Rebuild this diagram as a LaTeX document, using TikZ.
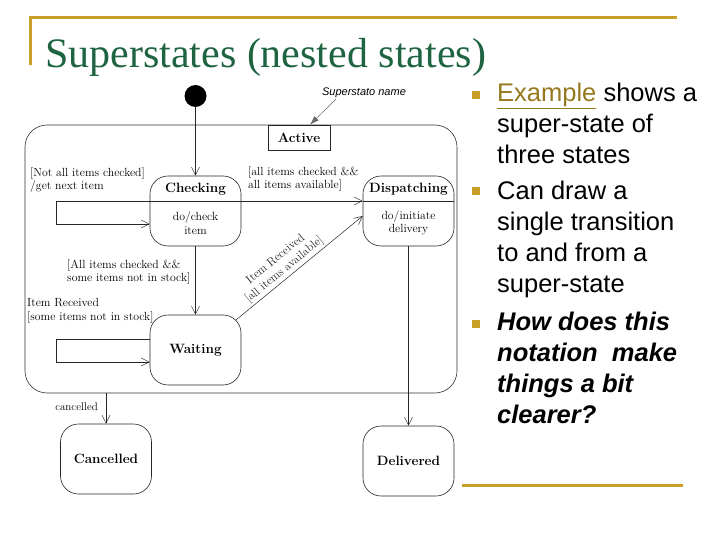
\documentclass[tikz,border=0pt]{standalone}
\usepackage{fontspec}
\newfontfamily\titlefont{Liberation Serif}
\newfontfamily\slidefont{Liberation Sans}
\usetikzlibrary{arrows.meta,positioning,calc}
\definecolor{slidegold}{RGB}{200,160,40}
\definecolor{titlegreen}{RGB}{30,100,65}
\definecolor{linkgold}{RGB}{150,120,30}

\begin{document}
\begin{tikzpicture}[x=1pt, y=-1pt,
    state/.style={draw=black!85, rounded corners=18pt, minimum width=91pt, minimum height=70pt, line width=0.6pt},
    superbox/.style={draw=black!80, rounded corners=22pt, minimum width=432pt, minimum height=268pt, line width=0.6pt},
    lbl/.style={font=\fontsize{11.8}{13.5}\selectfont, align=left, anchor=west, inner sep=0pt},
    sname/.style={font=\fontsize{13.5}{15}\selectfont\bfseries, inner sep=0pt},
    arr/.style={-{Straight Barb[length=8pt, width=8pt]}, line width=0.5pt, black!85},
    goldline/.style={slidegold, line width=3pt},
    bullet/.style={fill=slidegold, minimum size=8pt, inner sep=0pt},
    bullettext/.style={font=\slidefont\fontsize{25.5}{31}\selectfont, align=left, anchor=north west, inner sep=0pt},
]
\useasboundingbox (0,0) rectangle (720,540);

% Slide frame and title
\draw[goldline] (30,65) -- (30,18) -- (677,18);
\draw[goldline] (462,485) -- (683,485);
\node[font=\titlefont\fontsize{42}{42}\selectfont, text=titlegreen, anchor=base west, inner sep=0pt]
    (title) at (45,68) {Superstates (nested states)};

% Superstate
\node[superbox] (active) at (241,259) {};
\node[draw=black!85, line width=0.6pt, minimum width=62pt, minimum height=25pt,
      font=\fontsize{13.5}{15}\selectfont\bfseries] (activelabel) at (299,137.5) {Active};
\node[font=\slidefont\itshape\fontsize{11}{12}\selectfont, inner sep=1pt] (supername) at (364,93) {Superstato name};
\draw[-{Latex[length=9pt, width=6pt]}, black!60, line width=0.5pt]
    ($(supername.south west)+(15,0)$) -- ($(activelabel.north)+(11,0)$);

% Initial state
\node[circle, fill=black, minimum size=22pt, inner sep=0pt] (init) at (195.5,96) {};

% Checking state
\node[state] (checking) at (195.5,211) {};
\node[sname] (checkingname) at (195.5,189) {Checking};
\node[lbl, anchor=center, align=center] (checkingdo) at (195.5,223) {do/check\\item};

% Dispatching state
\node[state] (dispatching) at (408.5,211) {};
\node[sname] (dispatchingname) at (408.5,189) {Dispatching};
\node[lbl, anchor=center, align=center] (dispatchingdo) at (408.5,223) {do/initiate\\delivery};
\draw[line width=0.6pt, black!85] ($(dispatching.west)+(0,-10)$) -- ($(dispatching.east)+(0,-10)$);

% Waiting state
\node[state] (waiting) at (195.5,350) {};
\node[sname] (waitingname) at (195.5,350) {Waiting};

% Final states
\node[state] (cancelled) at (106,459) {};
\node[sname] (cancelledname) at (106,459) {Cancelled};
\node[state] (delivered) at (408.5,461) {};
\node[sname] (deliveredname) at (408.5,461) {Delivered};

% Transitions
\draw[arr] (init) -- (checking);
\coordinate (chkdivW) at ($(checking.west)+(0,-10)$);
\coordinate (chkdivE) at ($(checking.east)+(0,-10)$);
\draw[line width=0.6pt, black!85] (chkdivW) -- (chkdivE);
\draw[arr] (chkdivE) -- (chkdivE -| dispatching.west);
\draw[arr] (chkdivW) -- ++(-93,0) -- ++(0,23) -- ($(checking.west)+(0,13)$);
\draw[arr] (checking) -- (waiting);
\draw[arr] ($(waiting.west)+(0,-11)$) -- ++(-93,0) -- ++(0,23) -- ($(waiting.west)+(0,12)$);
\draw[arr] ($(waiting.north east)+(-5,5)$) --
    node[pos=0.42, sloped, above, font=\fontsize{11.8}{13.5}\selectfont, align=center, inner sep=2pt] (rcvlbl)
    {Item Received\\{[}all items available{]}} ($(dispatching.west)+(0,5)$);
\draw[arr] (dispatching) -- (delivered);
\draw[arr] (active.south -| cancelled) -- (cancelled);

% Transition labels
\node[lbl] (notall) at (30,180) {[Not all items checked]\\/get next item};
\node[lbl] (allavail) at (248,179) {[all items checked \&\&\\all items available]};
\node[lbl] (somenot) at (67,272) {[All items checked \&\&\\some items not in stock]};
\node[lbl] (itemrec) at (27,311) {Item Received\\{[}some items not in stock{]}};
\node[lbl, font=\fontsize{11}{12}\selectfont, anchor=east] (cancellbl) at (98,407) {cancelled};

% Bullet points
\node[bullet] (b1) at (476,95) {};
\node[bullettext] (t1) at (497,83) {\textcolor{linkgold}{\underline{Example}} shows a\\super-state of\\three states};
\node[bullet] (b2) at (476,191) {};
\node[bullettext] (t2) at (497,181) {Can draw a\\single transition\\to and from a\\super-state};
\node[bullet] (b3) at (476,324) {};
\node[bullettext, font=\slidefont\fontsize{25.5}{31}\selectfont\bfseries\itshape] (t3) at (497,312)
    {How does this\\notation\ \ make\\things a bit\\clearer?};
\end{tikzpicture}
\end{document}
